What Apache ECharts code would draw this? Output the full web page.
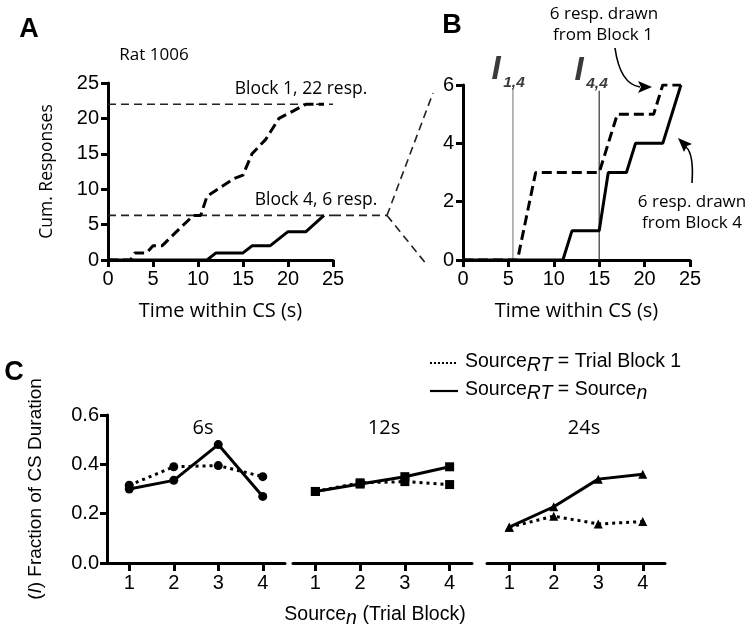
<!DOCTYPE html>
<html><head><meta charset="utf-8">
<script src="https://cdn.jsdelivr.net/npm/echarts@6/dist/echarts.min.js"></script>
<style>html,body{margin:0;padding:0;background:#fff}#c{width:750px;height:636px}</style>
</head><body><div id="c"></div>
<script>
// ---------- data ----------
const block1A = [[0,0],[2.5,0],[3,1],[4.3,1],[5,2],[6,2],[8,4.5],[9.5,6.3],[10.3,6.3],[11,9],[14,11.5],[15,12],[16,15],[17.5,17],[19,20],[20.5,21],[22,22],[24,22]];
const block4A = [[0,0],[11,0],[12,1],[15,1],[16,2],[18,2],[20,4],[22,4],[24,6.3]];
const refLevelsA = [22, 6.3];
const block1B = [[0,0],[6,0],[8,3],[15,3],[17,5],[21,5],[22,6],[24,6]];
const block4B = [[0,0],[11,0],[12,1],[15,1],[16,3],[18,3],[19,4],[22,4],[24,6]];
const iLineX = [5.5, 15];          // I(1,4), I(4,4)
const iLineTop = [5.9, 5.8];
const blocks = ['1','2','3','4'];
const durations = ['6s','12s','24s'];
const solidC  = [[0.30,0.335,0.48,0.27],[0.29,0.32,0.35,0.39],[0.145,0.228,0.34,0.36]];
const dottedC = [[0.315,0.39,0.395,0.35],[0.29,0.325,0.33,0.318],[0.145,0.19,0.158,0.168]];
const symbolsC = ['circle','rect','triangle'];

// ---------- styles ----------
const BLK = '#000';
const tickFontName = 'Liberation Sans';
const tickFont = '"Liberation Sans", Arial, sans-serif';
const annFont = '"Open Sans", sans-serif';

function axisCommon(extra) {
  return Object.assign({
    axisLine: {show: true, onZero: false, lineStyle: {color: BLK, width: 3}},
    axisTick: {show: true, length: 7, lineStyle: {color: BLK, width: 3}},
    axisLabel: {fontSize: 20, fontFamily: tickFont, color: BLK, margin: 9},
    splitLine: {show: false}
  }, extra);
}

const xAxes = [
  axisCommon({gridIndex: 0, type: 'value', min: 0, max: 25, interval: 5,
    name: 'Time within CS (s)', nameLocation: 'middle', nameGap: 41,
    nameTextStyle: {fontSize: 20, fontFamily: annFont, color: BLK}}),
  axisCommon({gridIndex: 1, type: 'value', min: 0, max: 25, interval: 5,
    name: 'Time within CS (s)', nameLocation: 'middle', nameGap: 41,
    nameTextStyle: {fontSize: 20, fontFamily: annFont, color: BLK}})
];
const yAxes = [
  axisCommon({gridIndex: 0, type: 'value', min: 0, max: 25, interval: 5,
    name: 'Cum. Responses', nameLocation: 'middle', nameGap: 52,
    nameTextStyle: {fontSize: 17.5, fontFamily: annFont, color: BLK}}),
  axisCommon({gridIndex: 1, type: 'value', min: 0, max: 6, interval: 2})
];
for (let i = 0; i < 3; i++) {
  xAxes.push(axisCommon({gridIndex: 2 + i, type: 'category', data: blocks, boundaryGap: true,
    axisTick: {show: true, alignWithLabel: true, length: 8, lineStyle: {color: BLK, width: 3}},
    axisLabel: {fontSize: 20, fontFamily: tickFont, color: BLK, margin: 10}}));
  if (i === 0) {
    yAxes.push(axisCommon({gridIndex: 2, type: 'value', min: 0, max: 0.6, interval: 0.2,
      axisLabel: {fontSize: 20, fontFamily: tickFont, color: BLK, margin: 8, formatter: v => v.toFixed(1)},
      name: '{n|(}{i|I}{n|) Fraction of CS Duration}', nameLocation: 'middle', nameGap: 62,
      nameTextStyle: {fontSize: 19, fontFamily: tickFont, color: BLK,
        rich: {n: {fontSize: 19, fontFamily: tickFont, color: BLK},
               i: {fontSize: 19, fontFamily: tickFont, color: BLK, fontStyle: 'italic'}}}}));
  } else {
    yAxes.push({gridIndex: 2 + i, type: 'value', min: 0, max: 0.6, interval: 0.2, show: false,
      splitLine: {show: false}});
  }
}

const series = [];
refLevelsA.forEach(v => series.push({type: 'line', xAxisIndex: 0, yAxisIndex: 0, data: [[0, v], [25, v]],
  symbol: 'none', lineStyle: {color: '#222', width: 1.6, type: [8, 5]}, silent: true}));
series.push({type: 'line', xAxisIndex: 0, yAxisIndex: 0, data: block1A, symbol: 'none',
  lineStyle: {color: BLK, width: 3, type: [10, 5]}});
series.push({type: 'line', xAxisIndex: 0, yAxisIndex: 0, data: block4A, symbol: 'none',
  lineStyle: {color: BLK, width: 3}});
iLineX.forEach((x, k) => series.push({type: 'line', xAxisIndex: 1, yAxisIndex: 1,
  data: [[x, 0], [x, iLineTop[k]]], symbol: 'none',
  lineStyle: {color: k === 0 ? '#888' : '#333', width: 1.2}}));
series.push({type: 'line', xAxisIndex: 1, yAxisIndex: 1, data: block1B, symbol: 'none',
  lineStyle: {color: BLK, width: 3, type: [10, 5]}});
series.push({type: 'line', xAxisIndex: 1, yAxisIndex: 1, data: block4B, symbol: 'none',
  lineStyle: {color: BLK, width: 3}});
for (let i = 0; i < 3; i++) {
  series.push({type: 'line', xAxisIndex: 2 + i, yAxisIndex: 2 + i, data: dottedC[i],
    symbol: symbolsC[i], symbolSize: 9, itemStyle: {color: BLK},
    lineStyle: {color: BLK, width: 3, type: [3, 4]}});
  series.push({type: 'line', xAxisIndex: 2 + i, yAxisIndex: 2 + i, data: solidC[i],
    symbol: symbolsC[i], symbolSize: 9, itemStyle: {color: BLK},
    lineStyle: {color: BLK, width: 3}});
}

function txt(x, y, text, size, opts) {
  return {type: 'text', x: x, y: y, z: 100, style: Object.assign({
    text: text, fontSize: size, fontFamily: annFont, fill: BLK,
    align: 'center', verticalAlign: 'middle', textAlign: 'center', textVerticalAlign: 'middle'
  }, opts || {})};
}
// text made of segments (for subscripts): segs = [[text, italic, dy], ...]
const measureCtx = document.createElement('canvas').getContext('2d');
function segText(x, y, segs, size, align) {
  const widths = segs.map(s => {
    measureCtx.font = (s[1] ? 'italic ' : '') + size + 'px "' + tickFontName + '"';
    return measureCtx.measureText(s[0]).width;
  });
  const total = widths.reduce((a, b) => a + b, 0);
  let cx = align === 'center' ? x - total / 2 : x;
  const out = [];
  segs.forEach((s, k) => {
    out.push(txt(cx, y + (s[2] || 0), s[0], size, {fontFamily: tickFont,
      fontStyle: s[1] ? 'italic' : 'normal', align: 'left', textAlign: 'left'}));
    cx += widths[k];
  });
  return out;
}

const iStyle = {fontFamily: tickFont, fontStyle: 'italic', fontWeight: 'bold', fill: '#3a3a3a'};
const graphics = [
  txt(29, 30, 'A', 27, {fontFamily: tickFont, fontWeight: 'bold'}),
  txt(452, 26, 'B', 27, {fontFamily: tickFont, fontWeight: 'bold'}),
  txt(14, 373, 'C', 27, {fontFamily: tickFont, fontWeight: 'bold'}),
  txt(154, 55, 'Rat 1006', 17),
  txt(301, 89, 'Block 1, 22 resp.', 17.5),
  txt(316, 200, 'Block 4, 6 resp.', 17.5),
  txt(604, 14, '6 resp. drawn', 17),
  txt(603, 35, 'from Block 1', 17),
  txt(692, 202, '6 resp. drawn', 17),
  txt(692, 223, 'from Block 4', 17),
  // I labels
  txt(496, 70, 'I', 33, iStyle),
  txt(514, 83, '1,4', 15.5, iStyle),
  txt(579, 71, 'I', 33, iStyle),
  txt(597, 84, '4,4', 15.5, iStyle),
  // subplot titles C
  txt(203, 428, durations[0], 20),
  txt(384, 428, durations[1], 20),
  txt(584, 428, durations[2], 20),
  // legend samples
  {type: 'line', z: 100, shape: {x1: 430, y1: 363, x2: 458, y2: 363},
    style: {stroke: BLK, lineWidth: 2.2, lineDash: [2, 2]}},
  {type: 'line', z: 100, shape: {x1: 430, y1: 391, x2: 458, y2: 391},
    style: {stroke: BLK, lineWidth: 2.2}},
  // arrows
  {type: 'bezierCurve', z: 100, shape: {x1: 615, y1: 48, cpx1: 620, cpy1: 84, x2: 640, y2: 87},
    style: {stroke: BLK, lineWidth: 1.6, fill: null}},
  {type: 'polygon', z: 100, shape: {points: [[652, 87], [638, 81], [641, 87], [638, 93]]}, style: {fill: BLK}},
  {type: 'bezierCurve', z: 100, shape: {x1: 692, y1: 183, cpx1: 694, cpy1: 154, x2: 686, y2: 147},
    style: {stroke: BLK, lineWidth: 1.6, fill: null}},
  {type: 'polygon', z: 100, shape: {points: [[678, 138], [692, 144], [687, 146], [684, 152]]}, style: {fill: BLK}}
].concat(
  segText(465, 362, [['Source', false, 0], ['RT', true, 4], [' = Trial Block 1', false, 0]], 19.5, 'left'),
  segText(465, 390, [['Source', false, 0], ['RT', true, 4], [' = Source', false, 0], ['n', true, 4]], 19.5, 'left'),
  segText(375, 615, [['Source', false, 0], ['n', true, 4], [' (Trial Block)', false, 0]], 19.5, 'center')
);

const chart = echarts.init(document.getElementById('c'));
chart.setOption({
  animation: false,
  backgroundColor: '#fff',
  grid: [
    {left: 108, top: 83, width: 225, height: 177},
    {left: 463, top: 85, width: 227, height: 175},
    {left: 107, top: 415, width: 178, height: 148},
    {left: 293, top: 415, width: 179, height: 148},
    {left: 487, top: 415, width: 178, height: 148}
  ],
  xAxis: xAxes,
  yAxis: yAxes,
  series: series,
  graphic: graphics
});

// zoom connector from panel A's 6-response level to panel B
const pA = chart.convertToPixel({xAxisIndex: 0, yAxisIndex: 0}, [25, refLevelsA[1]]);
const bx = 387;
const dashStyle = {stroke: '#222', lineWidth: 1.6, lineDash: [8, 5], fill: null};
chart.setOption({graphic: graphics.concat([
  {type: 'line', z: 90, shape: {x1: pA[0], y1: pA[1], x2: bx, y2: pA[1]}, style: dashStyle},
  {type: 'line', z: 90, shape: {x1: bx, y1: pA[1], x2: 433, y2: 93}, style: dashStyle},
  {type: 'line', z: 90, shape: {x1: bx, y1: pA[1], x2: 427, y2: 265}, style: dashStyle}
])});
</script></body></html>
